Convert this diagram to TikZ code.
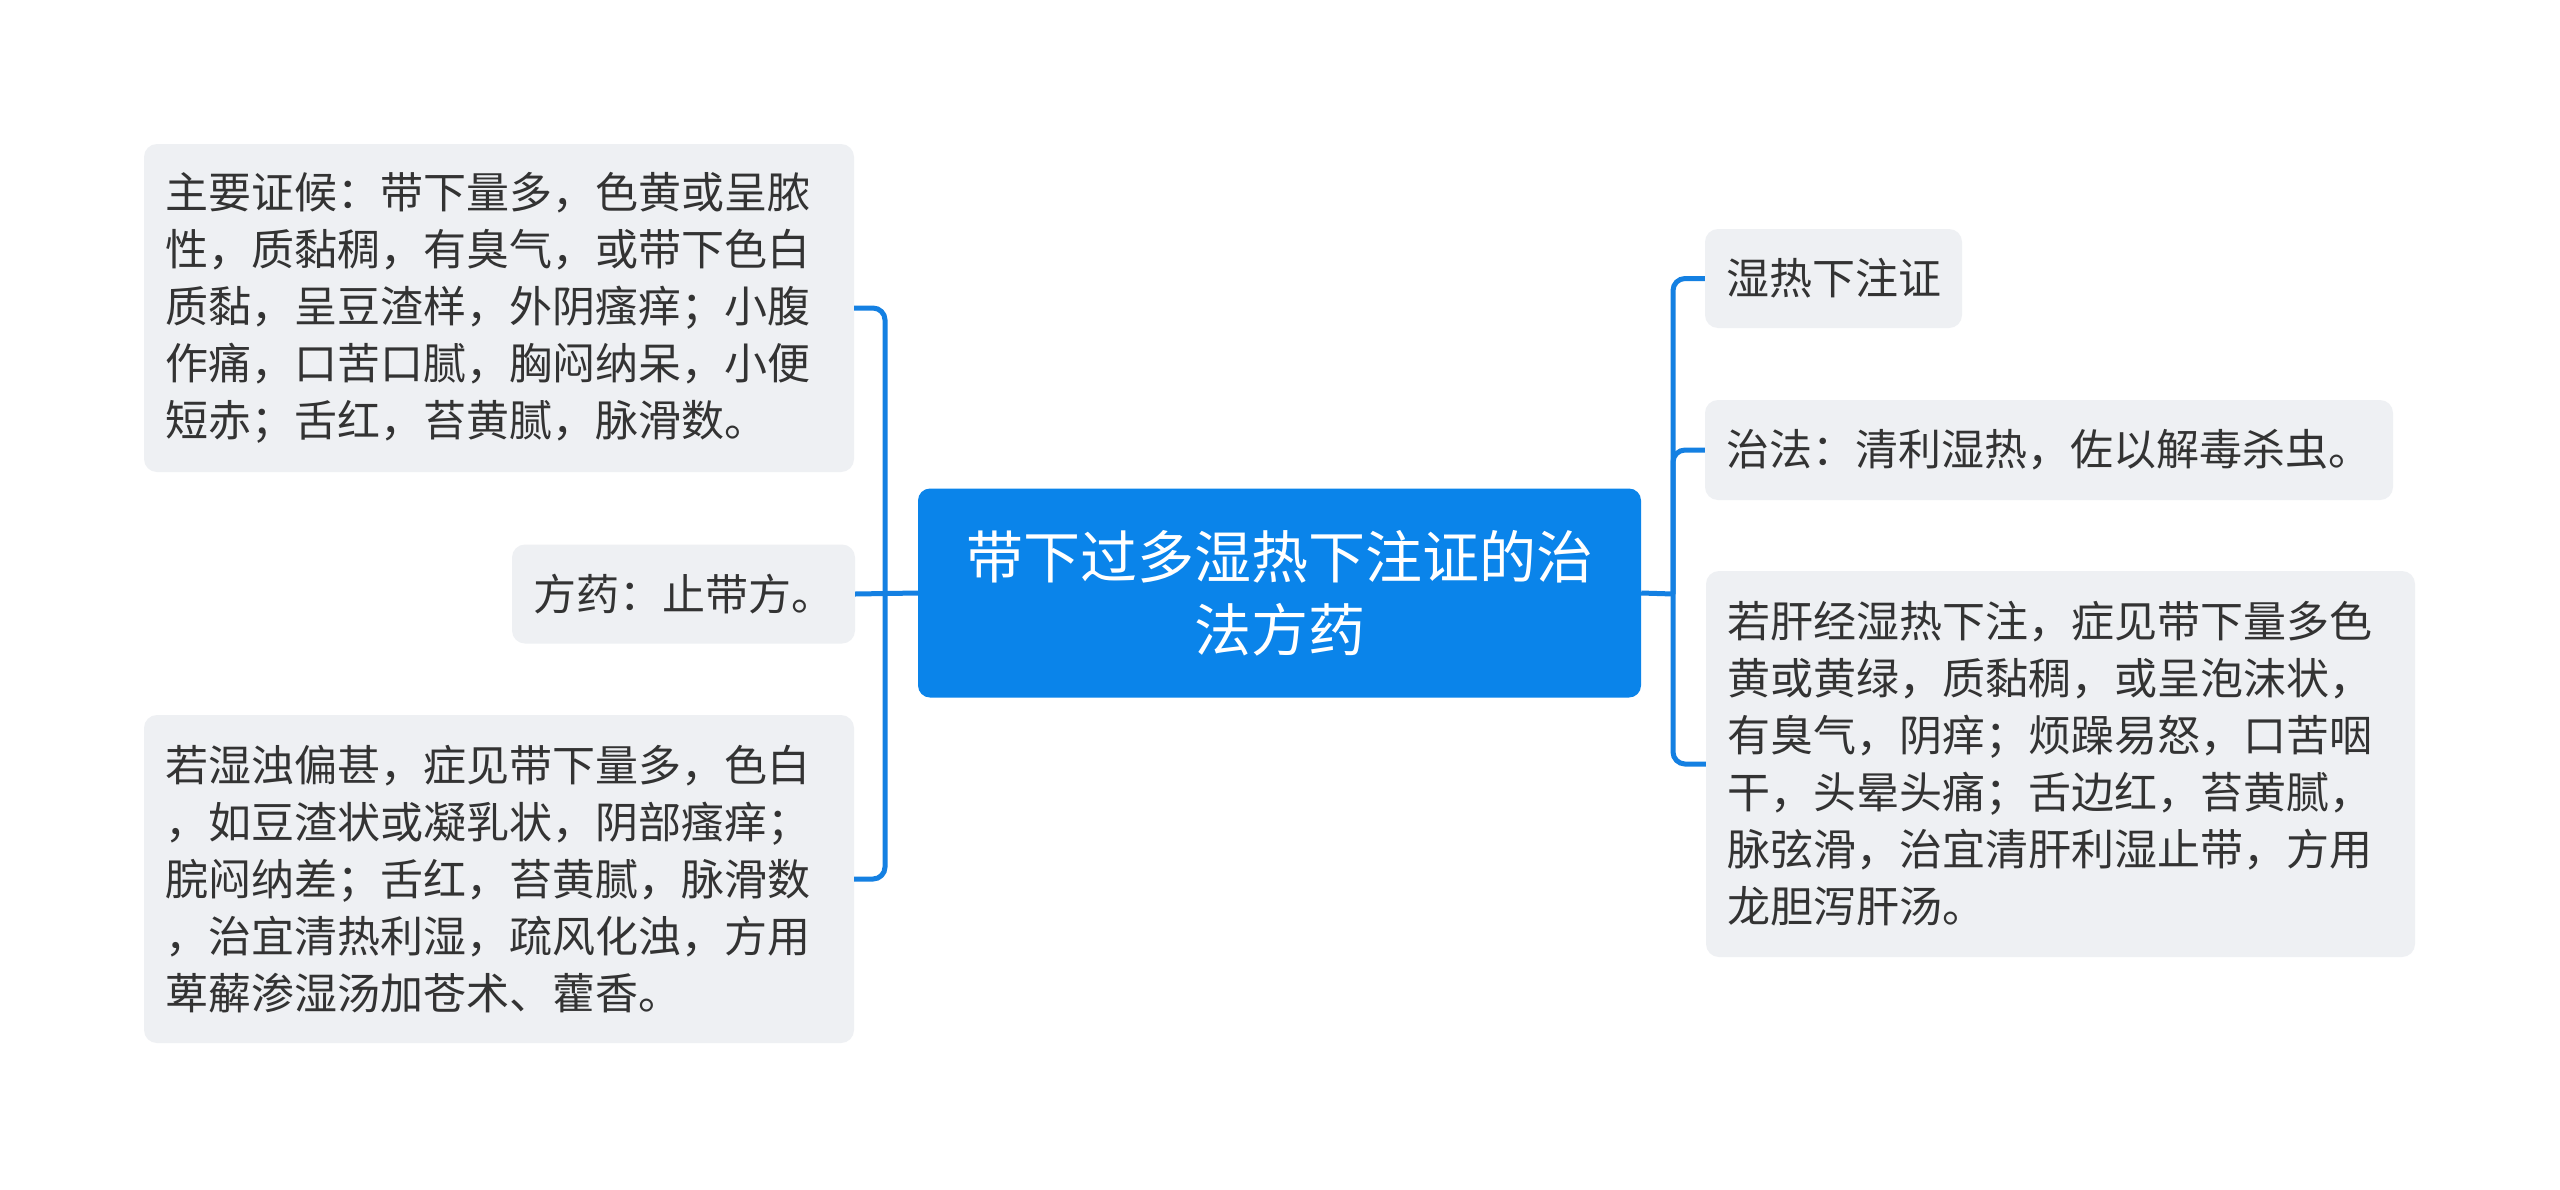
\documentclass[tikz,border=0pt]{standalone}
\usepackage{fontspec}
\setmainfont{Noto Sans CJK SC}
\definecolor{mainblue}{HTML}{0A84EA}
\definecolor{leafbg}{HTML}{EEF0F3}
\definecolor{linec}{HTML}{1480E2}
\definecolor{txt}{HTML}{333333}
\tikzset{
  leaf/.style={fill=leafbg, rounded corners=13pt, inner xsep=21pt, inner ysep=0pt, align=left, text=txt, font=\fontsize{43pt}{57pt}\selectfont},
  root/.style={fill=mainblue, rounded corners=12pt, text=white, align=center, inner sep=0pt, font=\fontsize{57pt}{73pt}\selectfont},
  conn/.style={draw=linec, line width=5pt, rounded corners=12pt}
}
\begin{document}
\begin{tikzpicture}[x=1pt,y=-1pt]
\useasboundingbox[fill=white] (0,0) rectangle (2560,1189);
\node[root, minimum width=723pt, minimum height=209pt] (root) at (1279.5,593) {带下过多湿热下注证的治\\法方药};
\node[leaf, text width=668pt, minimum height=328pt] (l1) at (499,308) {主要证候：带下量多，色黄或呈脓\\性，质黏稠，有臭气，或带下色白\\质黏，呈豆渣样，外阴瘙痒；小腹\\作痛，口苦口腻，胸闷纳呆，小便\\短赤；舌红，苔黄腻，脉滑数。};
\node[leaf, text width=301pt, minimum height=99pt] (l2) at (683.5,594) {方药：止带方。};
\node[leaf, text width=668pt, minimum height=328pt] (l3) at (499,879) {若湿浊偏甚，症见带下量多，色白\\，如豆渣状或凝乳状，阴部瘙痒；\\脘闷纳差；舌红，苔黄腻，脉滑数\\，治宜清热利湿，疏风化浊，方用\\萆薢渗湿汤加苍术、藿香。};
\node[leaf, text width=215pt, minimum height=99pt] (r1) at (1833.5,278.5) {湿热下注证};
\node[leaf, text width=646pt, minimum height=100pt] (r2) at (2049,450) {治法：清利湿热，佐以解毒杀虫。};
\node[leaf, text width=667pt, minimum height=386pt] (r3) at (2060.5,764) {若肝经湿热下注，症见带下量多色\\黄或黄绿，质黏稠，或呈泡沫状，\\有臭气，阴痒；烦躁易怒，口苦咽\\干，头晕头痛；舌边红，苔黄腻，\\脉弦滑，治宜清肝利湿止带，方用\\龙胆泻肝汤。};
\coordinate (lj) at (885,594);
\coordinate (rj) at (1673,594);
\draw[conn] (root.west) -- (l2.east);
\draw[conn] (lj) |- (l1.east);
\draw[conn] (lj) |- (l3.east);
\draw[conn] (root.east) -- (rj);
\draw[conn] (rj) |- (r1.west);
\draw[conn] (rj) |- (r2.west);
\draw[conn] (rj) |- (r3.west);
\end{tikzpicture}
\end{document}
